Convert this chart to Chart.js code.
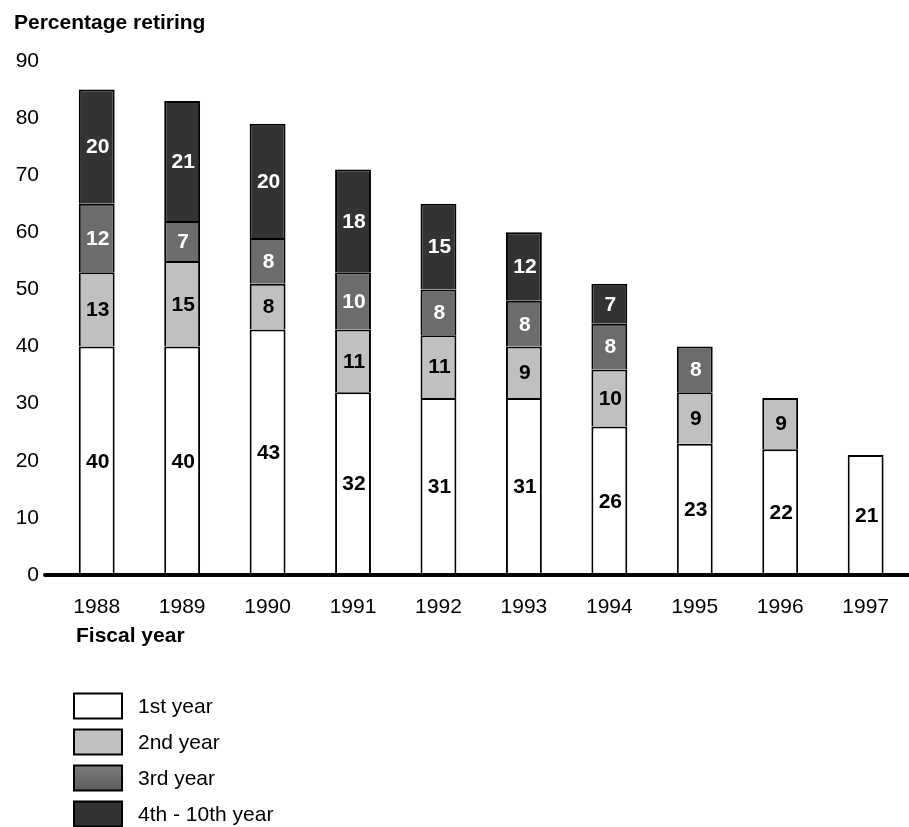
<!DOCTYPE html>
<html>
<head>
<meta charset="utf-8">
<script src="https://cdn.jsdelivr.net/npm/chart.js@4"></script>
<style>
  html, body { margin: 0; padding: 0; background: #fff; }
  #wrap { width: 909px; height: 827px; }
</style>
</head>
<body>
<div id="wrap"><canvas id="grafico" width="909" height="827"></canvas></div>
<script>
// datos
const years = ['1988', '1989', '1990', '1991', '1992', '1993', '1994', '1995', '1996', '1997'];
const firstYear = [40, 40, 43, 32, 31, 31, 26, 23, 22, 21];
const secondYear = [13, 15, 8, 11, 11, 9, 10, 9, 9, null];
const thirdYear = [12, 7, 8, 10, 8, 8, 8, 8, null, null];
const laterYears = [20, 21, 20, 18, 15, 12, 7, null, null, null];
const seriesNames = ['1st year', '2nd year', '3rd year', '4th - 10th year'];
const yTicks = [0, 10, 20, 30, 40, 50, 60, 70, 80, 90];

const FONT = 'Liberation Sans, Arial, Helvetica, sans-serif';

// gris con degradado para el 3er año
function thirdFill(c) {
    const el = c.element;
    if (!el || el.y === undefined || el.base === undefined || isNaN(el.y)) return '#6c6c6c';
    const g = c.chart.ctx.createLinearGradient(0, el.y, 0, el.base);
    g.addColorStop(0, '#7e7e7e');
    g.addColorStop(1, '#5c5c5c');
    return g;
}

// etiquetas dentro de cada segmento
const segmentLabels = {
    id: 'segmentLabels',
    afterDatasetsDraw(chart) {
        const ctx = chart.ctx;
        ctx.save();
        ctx.font = 'bold 21px ' + FONT;
        ctx.textAlign = 'center';
        ctx.textBaseline = 'middle';
        chart.data.datasets.forEach((ds, i) => {
            const meta = chart.getDatasetMeta(i);
            meta.data.forEach((bar, j) => {
                const v = ds.data[j];
                if (v == null) return;
                ctx.fillStyle = i >= 2 ? '#fff' : '#000';
                ctx.fillText(String(v), bar.x + 1, (bar.y + bar.base) / 2 + 1);
            });
        });
        ctx.restore();
    }
};

// linea base gruesa, titulos y leyenda
const extras = {
    id: 'extras',
    afterDraw(chart) {
        const ctx = chart.ctx;
        const y0 = chart.scales.y.getPixelForValue(0);
        ctx.save();
        ctx.strokeStyle = '#000';
        ctx.lineWidth = 4;
        ctx.lineCap = 'round';
        ctx.beginPath();
        ctx.moveTo(45, y0);
        ctx.lineTo(909, y0);
        ctx.stroke();

        ctx.fillStyle = '#000';
        ctx.font = 'bold 21px ' + FONT;
        ctx.textAlign = 'left';
        ctx.textBaseline = 'middle';
        ctx.fillText('Percentage retiring', 14, 23);
        ctx.fillText('Fiscal year', 76, 636);

        ctx.font = '21px ' + FONT;
        chart.data.datasets.forEach((ds, i) => {
            const cy = 706 + i * 36;
            let fill = ds.legendColor;
            if (i === 2) {
                fill = ctx.createLinearGradient(0, cy - 13, 0, cy + 13);
                fill.addColorStop(0, '#7e7e7e');
                fill.addColorStop(1, '#5c5c5c');
            }
            ctx.fillStyle = fill;
            ctx.fillRect(74, cy - 12.5, 48, 25);
            ctx.lineWidth = 2;
            ctx.strokeStyle = '#000';
            ctx.strokeRect(74, cy - 12.5, 48, 25);
            ctx.fillStyle = '#000';
            ctx.fillText(ds.label, 138, cy + 1);
        });
        ctx.restore();
    }
};

new Chart(document.getElementById('grafico'), {
    type: 'bar',
    data: {
        labels: years,
        datasets: [
            { label: seriesNames[0], data: firstYear, backgroundColor: '#ffffff', legendColor: '#ffffff', borderSkipped: false },
            { label: seriesNames[1], data: secondYear, backgroundColor: '#c0c0c0', legendColor: '#c0c0c0', borderSkipped: 'bottom' },
            { label: seriesNames[2], data: thirdYear, backgroundColor: thirdFill, legendColor: '#6c6c6c', borderSkipped: 'bottom' },
            { label: seriesNames[3], data: laterYears, backgroundColor: '#333333', legendColor: '#333333', borderSkipped: 'bottom' }
        ].map(d => Object.assign(d, {
            borderColor: '#000',
            borderWidth: 2,
            barPercentage: 0.84,
            categoryPercentage: 0.5
        }))
    },
    options: {
        responsive: false,
        animation: false,
        layout: { padding: { top: 61, left: 0, right: -3, bottom: 212 } },
        plugins: { legend: { display: false }, tooltip: { enabled: false } },
        scales: {
            x: {
                stacked: true,
                grid: { display: false, drawTicks: false },
                border: { display: false },
                ticks: { color: '#000', font: { family: FONT, size: 21 }, padding: 20 },
                afterFit(s) { s.height = 40; }
            },
            y: {
                stacked: true,
                min: 0,
                max: 90,
                afterBuildTicks(s) { s.ticks = yTicks.map(v => ({ value: v })); },
                grid: { display: false, drawTicks: false },
                border: { display: false },
                ticks: { color: '#000', font: { family: FONT, size: 21 }, padding: 15 },
                afterFit(s) { s.width = 54; }
            }
        }
    },
    plugins: [segmentLabels, extras]
});
</script>
</body>
</html>
